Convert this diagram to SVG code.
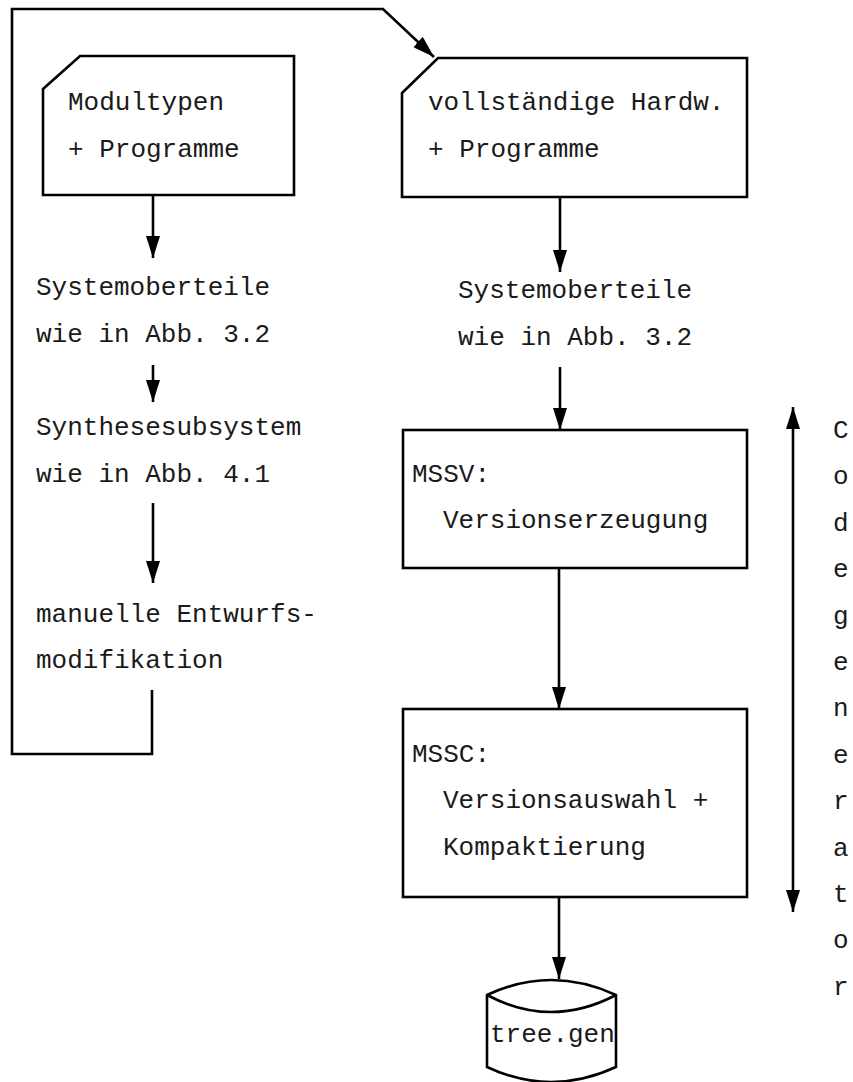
<svg xmlns="http://www.w3.org/2000/svg" width="853" height="1082" viewBox="0 0 853 1082">
<style>
.t{font-family:"Liberation Mono","DejaVu Sans Mono",monospace;font-size:26px;fill:#1a1a1a}
.b{fill:#fff;stroke:#000;stroke-width:2.6}
.c{fill:none;stroke:#000;stroke-width:2.6}
</style>
<defs>
<marker id="ah" viewBox="0 0 22 14" refX="22" refY="7" markerWidth="22" markerHeight="14" markerUnits="userSpaceOnUse" orient="auto-start-reverse">
<path d="M0,0 L22,7 L0,14 Z" fill="#000"/>
</marker>
</defs>
<rect width="853" height="1082" fill="#fff"/>
<g id="connectors">
<path class="c" d="M152,690 V754 H12 V9 H383 L434,57" marker-end="url(#ah)"/>
<line class="c" x1="153" y1="195" x2="153" y2="258" marker-end="url(#ah)"/>
<line class="c" x1="153" y1="365" x2="153" y2="402" marker-end="url(#ah)"/>
<line class="c" x1="153" y1="503" x2="153" y2="583" marker-end="url(#ah)"/>
<line class="c" x1="560" y1="197" x2="560" y2="272" marker-end="url(#ah)"/>
<line class="c" x1="560" y1="367" x2="560" y2="430" marker-end="url(#ah)"/>
<line class="c" x1="559" y1="568" x2="559" y2="709" marker-end="url(#ah)"/>
<line class="c" x1="559" y1="897" x2="559" y2="979" marker-end="url(#ah)"/>
<line class="c" x1="793" y1="407" x2="793" y2="912" marker-start="url(#ah)" marker-end="url(#ah)"/>
</g>
<g id="modultypen">
<path class="b" d="M43,89 L80,56 H294 V195 H43 Z"/>
<text class="t" x="68" y="110">Modultypen</text>
<text class="t" x="68" y="157">+ Programme</text>
</g>
<g id="systemoberteile-left">
<text class="t" x="36" y="295">Systemoberteile</text>
<text class="t" x="36" y="342">wie in Abb. 3.2</text>
</g>
<g id="synthesesubsystem">
<text class="t" x="36" y="435">Synthesesubsystem</text>
<text class="t" x="36" y="482">wie in Abb. 4.1</text>
</g>
<g id="manuelle">
<text class="t" x="36" y="622">manuelle Entwurfs-</text>
<text class="t" x="36" y="668">modifikation</text>
</g>
<g id="hardware">
<path class="b" d="M402,93 L438,58 H747 V197 H402 Z"/>
<text class="t" x="428" y="110">vollständige Hardw.</text>
<text class="t" x="428" y="157">+ Programme</text>
</g>
<g id="systemoberteile-right">
<text class="t" x="458" y="298">Systemoberteile</text>
<text class="t" x="458" y="345">wie in Abb. 3.2</text>
</g>
<g id="mssv">
<rect class="b" x="403" y="430" width="344" height="138"/>
<text class="t" x="412" y="482">MSSV:</text>
<text class="t" x="443" y="528">Versionserzeugung</text>
</g>
<g id="mssc">
<rect class="b" x="403" y="709" width="344" height="188"/>
<text class="t" x="412" y="762">MSSC:</text>
<text class="t" x="443" y="808">Versionsauswahl +</text>
<text class="t" x="443" y="855">Kompaktierung</text>
</g>
<g id="treegen">
<path class="b" d="M487,995 Q551,965 616,995 V1067 Q551,1097 487,1067 Z"/>
<path class="c" d="M487,995 Q551,1029 616,995"/>
<text class="t" x="490" y="1042">tree.gen</text>
</g>
<g id="codegenerator">
<text class="t" x="833" y="438">C</text>
<text class="t" x="833" y="484">o</text>
<text class="t" x="833" y="531">d</text>
<text class="t" x="833" y="577">e</text>
<text class="t" x="833" y="624">g</text>
<text class="t" x="833" y="670">e</text>
<text class="t" x="833" y="716">n</text>
<text class="t" x="833" y="763">e</text>
<text class="t" x="833" y="809">r</text>
<text class="t" x="833" y="856">a</text>
<text class="t" x="833" y="902">t</text>
<text class="t" x="833" y="948">o</text>
<text class="t" x="833" y="995">r</text>
</g>
</svg>
